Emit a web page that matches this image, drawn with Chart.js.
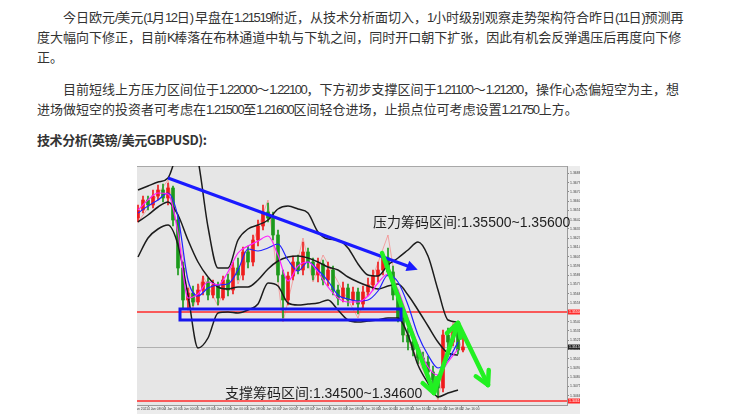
<!DOCTYPE html>
<html><head><meta charset="utf-8">
<script src="https://cdn.jsdelivr.net/npm/chart.js@4.4.1/dist/chart.umd.min.js"></script>
<style>
html,body{margin:0;padding:0;background:#fff;width:740px;height:419px;overflow:hidden;}
body{font-family:"Noto Sans CJK SC",sans-serif;color:#333;font-size:13px;}
.ln{position:absolute;left:37px;white-space:nowrap;line-height:20px;height:20px;}
.ind{left:63px;}
.a{font-family:"Liberation Sans Narrow","Liberation Sans",sans-serif;letter-spacing:-1.4px;}
.h{font-weight:bold;letter-spacing:-0.4px;}
#wrap{position:absolute;left:137px;top:166px;width:443px;height:248px;}
.lbl{position:absolute;white-space:nowrap;font-family:"Liberation Sans","Noto Sans CJK SC",sans-serif;font-size:14px;color:#1e1e1e;line-height:18px;}
</style>
</head><body>
<div class="ln ind" style="top:7px">今日欧元<span class="a">/</span>美元<span class="a">(1</span>月<span class="a">12</span>日<span class="a">) </span>早盘在<span class="a">1.21519</span>附近，从技术分析面切入，<span class="a">1</span>小时级别观察走势架构符合昨日<span class="a">(11</span>日<span class="a">)</span>预测再</div>
<div class="ln" style="top:27px">度大幅向下修正，目前<span class="a">K</span>棒落在布林通道中轨与下轨之间，同时开口朝下扩张，因此有机会反弹遇压后再度向下修</div>
<div class="ln" style="top:47px">正。</div>
<div class="ln ind" style="top:79px">目前短线上方压力区间位于<span class="a">1.22000</span>～<span class="a">1.22100</span>，下方初步支撑区间于<span class="a">1.21100</span>～<span class="a">1.21200</span>，操作心态偏短空为主，想</div>
<div class="ln" style="top:99px">进场做短空的投资者可考虑在<span class="a">1.21500</span>至<span class="a">1.21600</span>区间轻仓进场，止损点位可考虑设置<span class="a">1.21750</span>上方。</div>
<div class="ln h" style="top:130px">技术分析(英镑/美元GBPUSD):</div>

<div id="wrap"><canvas id="c" width="443" height="248" style="width:443px;height:248px"></canvas></div>
<div class="lbl" style="left:373px;top:213px">压力筹码区间:1.35500~1.35600</div>
<div class="lbl" style="left:225px;top:384px">支撑筹码区间:1.34500~1.34600</div>

<script>
// ---- candles (1h GBPUSD) ----
const candleOpen  = [1.3644,1.3652,1.3662,1.3657,1.3666,1.3672,1.3664,1.3674,1.3642,1.3594,1.3562,1.3569,1.3560,1.3572,1.3580,1.3567,1.3577,1.3564,1.3582,1.3572,1.3594,1.3587,1.3610,1.3600,1.3622,1.3636,1.3650,1.3644,1.3627,1.3587,1.3562,1.3586,1.3600,1.3592,1.3610,1.3600,1.3587,1.3598,1.3582,1.3592,1.3572,1.3564,1.3574,1.3562,1.3570,1.3558,1.3570,1.3577,1.3586,1.3592,1.3604,1.3590,1.3567,1.3544,1.3527,1.3520,1.3512,1.3504,1.3500,1.3490,1.3482,1.3474,1.3527,1.3520,1.3530,1.3512];
const candleClose = [1.3652,1.3662,1.3657,1.3666,1.3672,1.3664,1.3674,1.3642,1.3594,1.3562,1.3569,1.3560,1.3572,1.3580,1.3567,1.3577,1.3564,1.3582,1.3572,1.3594,1.3587,1.3610,1.3600,1.3622,1.3636,1.3650,1.3644,1.3627,1.3587,1.3562,1.3586,1.3600,1.3592,1.3610,1.3600,1.3587,1.3598,1.3582,1.3592,1.3572,1.3564,1.3574,1.3562,1.3570,1.3558,1.3570,1.3577,1.3586,1.3592,1.3604,1.3590,1.3567,1.3544,1.3527,1.3520,1.3512,1.3504,1.3500,1.3490,1.3482,1.3474,1.3527,1.3520,1.3530,1.3512,1.3515];
const candleHigh  = [1.3657,1.3666,1.3666,1.3672,1.3677,1.3678,1.3679,1.3676,1.3647,1.3600,1.3574,1.3576,1.3578,1.3586,1.3584,1.3582,1.3580,1.3586,1.3588,1.3600,1.3604,1.3615,1.3616,1.3627,1.3642,1.3657,1.3659,1.3650,1.3632,1.3592,1.3590,1.3606,1.3607,1.3620,1.3614,1.3604,1.3604,1.3602,1.3600,1.3596,1.3577,1.3580,1.3578,1.3575,1.3574,1.3576,1.3584,1.3592,1.3600,1.3610,1.3614,1.3596,1.3572,1.3550,1.3534,1.3526,1.3517,1.3510,1.3506,1.3496,1.3487,1.3532,1.3534,1.3537,1.3534,1.3526];
const candleLow   = [1.3640,1.3649,1.3652,1.3654,1.3662,1.3660,1.3657,1.3636,1.3587,1.3554,1.3552,1.3556,1.3557,1.3567,1.3562,1.3564,1.3557,1.3562,1.3566,1.3568,1.3582,1.3582,1.3594,1.3596,1.3616,1.3632,1.3640,1.3622,1.3580,1.3544,1.3557,1.3582,1.3588,1.3587,1.3594,1.3582,1.3580,1.3577,1.3576,1.3567,1.3557,1.3560,1.3556,1.3557,1.3548,1.3554,1.3566,1.3572,1.3580,1.3587,1.3586,1.3562,1.3540,1.3520,1.3512,1.3506,1.3498,1.3494,1.3484,1.3474,1.3464,1.3470,1.3514,1.3516,1.3508,1.3510];

// ---- indicators, one value every 2 candles ----
const bandStep = 2;
const bandUpper  = [1.3672,1.3676,1.3680,1.3684,1.3712,1.3732,1.3702,1.3635,1.3594,1.3594,1.3622,1.3633,1.3637,1.3642,1.3653,1.3656,1.3653,1.3649,1.3630,1.3623,1.3622,1.3614,1.3598,1.3587,1.3586,1.3597,1.3604,1.3612,1.3620,1.3606,1.3572,1.3542,1.3540];
const bandMiddle = [1.3640,1.3647,1.3655,1.3660,1.3647,1.3622,1.3600,1.3585,1.3575,1.3573,1.3575,1.3575,1.3582,1.3593,1.3601,1.3605,1.3606,1.3604,1.3600,1.3595,1.3592,1.3585,1.3580,1.3576,1.3573,1.3576,1.3578,1.3567,1.3552,1.3536,1.3520,1.3509,1.3507];
const bandLower  = [1.3605,1.3624,1.3633,1.3637,1.3617,1.3567,1.3514,1.3524,1.3549,1.3550,1.3549,1.3552,1.3558,1.3579,1.3576,1.3559,1.3557,1.3558,1.3559,1.3562,1.3552,1.3542,1.3540,1.3541,1.3542,1.3544,1.3544,1.3527,1.3497,1.3479,1.3465,1.3469,1.3472];
const maBlue     = [1.3649,1.3656,1.3662,1.3669,1.3645,1.3582,1.3566,1.3574,1.3577,1.3578,1.3592,1.3613,1.3611,1.3614,1.3618,1.3602,1.3591,1.3600,1.3592,1.3581,1.3567,1.3563,1.3561,1.3562,1.3571,1.3587,1.3580,1.3557,1.3527,1.3507,1.3494,1.3502,1.3520];
const maMagenta  = [1.3652,1.3662,1.3669,1.3668,1.3629,1.3564,1.3568,1.3580,1.3577,1.3590,1.3609,1.3616,1.3621,1.3626,1.3607,1.3581,1.3596,1.3600,1.3590,1.3575,1.3564,1.3560,1.3560,1.3566,1.3579,1.3588,1.3572,1.3544,1.3517,1.3495,1.3487,1.3500,1.3513];
const zigzagIdx   = [0,6,11,13,16,19,20,26,29,33,35,37,44,50,53,60,63,65];
const zigzagPrice = [1.3640,1.3682,1.3554,1.3586,1.3556,1.3600,1.3578,1.3662,1.3540,1.3624,1.3580,1.3607,1.3544,1.3627,1.3532,1.3462,1.3540,1.3510];

// ---- drawn annotations (candle index / price) ----
const trendX = [6.0, 55.0],  trendPrice = [1.3684, 1.3594];
const boxX   = [8.4, 52.6],  boxPrice   = [1.3553, 1.3542];
const greenX = [48.8, 59.2, 64.0, 70.0], greenPrice = [1.3609, 1.3469, 1.3539, 1.3477];
const redLevels = [1.3550, 1.3461];
const lastPrice = 1.3515;

// ---- axis tick labels ----
const yTickValues = [1.36887,1.36794,1.36701,1.36609,1.36516,1.36423,1.36331,1.36238,1.36145,1.36053,1.35960,1.35867,1.35775,1.35682,1.35589,1.35497,1.35404,1.35311,1.35219,1.35126,1.35033,1.34941,1.34848,1.34755,1.34663];
const xTickLabels = ["4 Jan 2021","4 Jan 08:00","4 Jan 16:00","5 Jan 00:00","5 Jan 08:00","5 Jan 16:00","6 Jan 00:00","6 Jan 08:00","6 Jan 16:00","7 Jan 00:00","7 Jan 08:00","7 Jan 16:00","8 Jan 00:00","8 Jan 08:00","8 Jan 16:00","11 Jan 00:00","11 Jan 08:00","11 Jan 16:00","12 Jan 00:00","12 Jan 08:00","12 Jan 16:00"];

const UP = '#ee1c1c', DOWN = '#1b9a1b';
const candleColors = candleClose.map((c,i)=> c >= candleOpen[i] ? UP : DOWN);
const series = arr => arr.map((v,k)=>({x:k*bandStep, y:v}));
const lineDs = (data,color,w)=>({type:'line',data,borderColor:color,borderWidth:w,pointRadius:0,cubicInterpolationMode:'monotone',fill:false});

const deco = {
  id:'deco',
  beforeDraw(c){
    const {ctx,chartArea:a}=c; ctx.save();
    ctx.fillStyle='#ececec'; ctx.fillRect(0,0,c.width,c.height);
    ctx.fillStyle='#e6e6e6'; ctx.fillRect(a.left,a.top,a.right-a.left,a.bottom-a.top);
    ctx.strokeStyle='#a8a8a8'; ctx.lineWidth=1; ctx.beginPath(); ctx.moveTo(a.left,a.top+0.5); ctx.lineTo(a.right,a.top+0.5); ctx.stroke();
    ctx.restore();
  },
  beforeDatasetsDraw(c){
    const {ctx,chartArea:a,scales:{y}}=c; ctx.save();
    let py=Math.round(y.getPixelForValue(lastPrice))+0.5;
    ctx.strokeStyle='#b0b0b0'; ctx.lineWidth=1; ctx.beginPath(); ctx.moveTo(a.left,py); ctx.lineTo(a.right,py); ctx.stroke();
    ctx.strokeStyle='#ff2a2a'; ctx.lineWidth=1.6;
    redLevels.forEach(v=>{ const p=y.getPixelForValue(v); ctx.beginPath(); ctx.moveTo(a.left,p); ctx.lineTo(a.right,p); ctx.stroke(); });
    ctx.restore();
  },
  afterDatasetsDraw(c){
    const {ctx,scales:{x,y}}=c; ctx.save();
    const bx0=x.getPixelForValue(boxX[0]), bx1=x.getPixelForValue(boxX[1]);
    const by0=y.getPixelForValue(boxPrice[0]), by1=y.getPixelForValue(boxPrice[1]);
    ctx.strokeStyle='#1616ee'; ctx.lineWidth=3; ctx.strokeRect(bx0,by0,bx1-bx0,by1-by0);
    const tx0=x.getPixelForValue(trendX[0]), ty0=y.getPixelForValue(trendPrice[0]);
    const tx1=x.getPixelForValue(trendX[1]), ty1=y.getPixelForValue(trendPrice[1]);
    let ang=Math.atan2(ty1-ty0,tx1-tx0);
    const tipx=tx1+Math.cos(ang)*5, tipy=ty1+Math.sin(ang)*5;
    ctx.fillStyle='#1a1aff'; ctx.beginPath();
    ctx.moveTo(tipx,tipy);
    ctx.lineTo(tipx-Math.cos(ang)*11+Math.sin(ang)*5.5, tipy-Math.sin(ang)*11-Math.cos(ang)*5.5);
    ctx.lineTo(tipx-Math.cos(ang)*11-Math.sin(ang)*5.5, tipy-Math.sin(ang)*11+Math.cos(ang)*5.5);
    ctx.closePath(); ctx.fill();
    ctx.strokeStyle='#22f022'; ctx.lineWidth=4.5; ctx.lineCap='round';
    for(let k=1;k<greenX.length;k++){
      const px0=x.getPixelForValue(greenX[k-1]), py0=y.getPixelForValue(greenPrice[k-1]);
      const px1=x.getPixelForValue(greenX[k]), py1=y.getPixelForValue(greenPrice[k]);
      const an=Math.atan2(py1-py0,px1-px0);
      [0.5,-0.5].forEach(d=>{
        ctx.beginPath(); ctx.moveTo(px1,py1);
        ctx.lineTo(px1-Math.cos(an+d)*15, py1-Math.sin(an+d)*15); ctx.stroke();
      });
    }
    ctx.restore();
  },
  afterDraw(c){
    const {ctx,chartArea:a,scales:{y}}=c; ctx.save();
    const tag=(v,col)=>{ const p=y.getPixelForValue(v); ctx.fillStyle=col; ctx.fillRect(a.right+1,p-2.5,c.width-a.right-1,5);
      ctx.fillStyle='#fff'; ctx.font='3.5px sans-serif'; ctx.textBaseline='middle'; ctx.fillText(v.toFixed(5),a.right+2,p); };
    redLevels.forEach(v=>tag(v,'#ff2a2a'));
    tag(lastPrice,'#222');
    ctx.restore();
  }
};

new Chart(document.getElementById('c'), {
  type:'bar',
  data:{datasets:[
    Object.assign(lineDs(greenX.map((v,k)=>({x:v,y:greenPrice[k]})),'#22f022',4.5),{cubicInterpolationMode:'default',tension:0,borderJoinStyle:'round',borderCapStyle:'round'}),
    Object.assign(lineDs(trendX.map((v,k)=>({x:v,y:trendPrice[k]})),'#1a1aff',3),{cubicInterpolationMode:'default',tension:0}),
    lineDs(series(maMagenta),'#ff1cff',1.2),
    lineDs(series(maBlue),'#2222ff',1.2),
    lineDs(series(bandUpper),'#1c1c1c',1.5),
    lineDs(series(bandMiddle),'#1c1c1c',1.5),
    lineDs(series(bandLower),'#1c1c1c',1.5),
    {type:'bar',data:candleOpen.map((o,i)=>({x:i,y:[o,candleClose[i]]})),backgroundColor:candleColors,barThickness:3,grouped:false,borderWidth:0},
    {type:'bar',data:candleOpen.map((o,i)=>({x:i,y:[candleLow[i],candleHigh[i]]})),backgroundColor:candleColors,barThickness:1,grouped:false,borderWidth:0},
    {type:'line',data:zigzagIdx.map((v,k)=>({x:v,y:zigzagPrice[k]})),borderColor:'rgba(255,80,80,0.45)',borderWidth:1,pointRadius:0,tension:0,fill:false}
  ]},
  options:{
    responsive:false, animation:false,
    layout:{padding:0},
    plugins:{legend:{display:false},tooltip:{enabled:false}},
    scales:{
      x:{type:'linear',min:-0.2,max:85.8,offset:false,
        grid:{drawOnChartArea:false,drawTicks:true,tickLength:2,color:'#888'},
        border:{display:true,color:'#9a9a9a'},
        ticks:{font:{size:3.3},color:'#444',maxRotation:0,autoSkip:false,padding:0,callback:(v,i)=>xTickLabels[i]},
        afterBuildTicks:s=>{s.ticks=xTickLabels.map((_,k)=>({value:0.4+3.3*k}));},
        afterFit:s=>{s.height=9;s.paddingLeft=0;s.paddingRight=0;}
      },
      y:{position:'right',min:1.3457,max:1.3696,
        grid:{drawOnChartArea:false,drawTicks:true,tickLength:2,color:'#888'},
        border:{display:true,color:'#9a9a9a'},
        ticks:{font:{size:3.5},color:'#444',padding:1,autoSkip:false,callback:v=>Number(v).toFixed(5)},
        afterBuildTicks:s=>{s.ticks=yTickValues.map(v=>({value:v}));},
        afterFit:s=>{s.width=13;s.paddingTop=0;s.paddingBottom=0;}
      }
    }
  },
  plugins:[deco]
});
</script>
</body></html>
